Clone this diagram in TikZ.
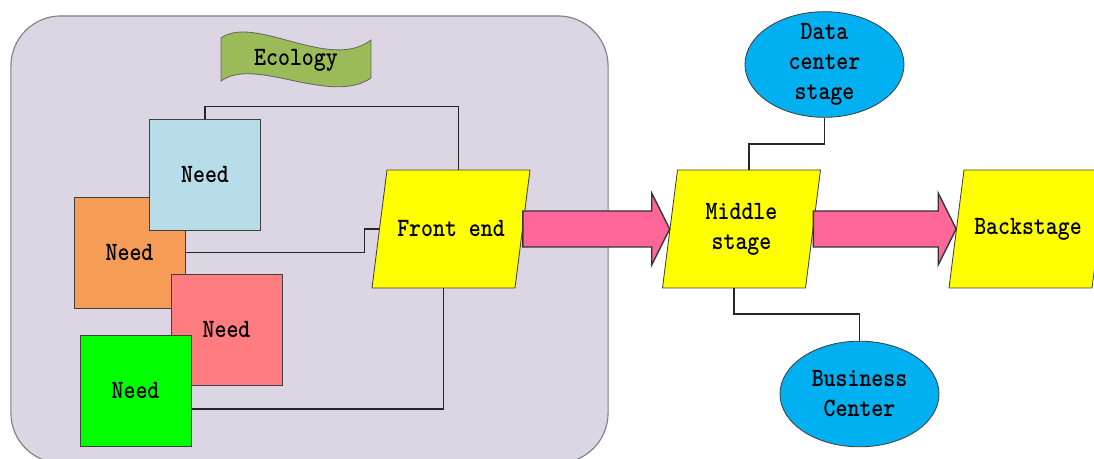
\documentclass[tikz,border=0pt]{standalone}
\usepackage{xcolor}
\usepackage{fontspec}
\usepackage{tikz}
\usetikzlibrary{arrows.meta, positioning, shapes.geometric, calc}

\newfontfamily\labelfont{lmmonolt10-bold.otf}[FakeStretch=0.86]

\definecolor{ecofill}{HTML}{DCD6E4}
\definecolor{bannergreen}{HTML}{9BBB59}
\definecolor{needblue}{HTML}{B7DDE8}
\definecolor{needorange}{HTML}{F59D56}
\definecolor{needred}{HTML}{FF7C80}
\definecolor{needgreen}{HTML}{00FF00}
\definecolor{stageyellow}{HTML}{FFFF00}
\definecolor{arrowpink}{HTML}{FF6699}
\definecolor{centerblue}{HTML}{00B0F0}

% slanted yellow box #1 centred at #2, text #3
\newcommand{\stagebox}[3]{%
  \filldraw[stageshape] ($(#2)+(-64,-59)$) -- ++(143,0) -- ++(-15,118) -- ++(-143,0) -- cycle;
  \node[stagenode] (#1) at (#2) {#3};}

% thick block arrow from the right side of #1 to the left side of #2
\newcommand{\bigarrow}[2]{%
  \draw[fatarrow] ($(#1.east)+(0,-18)$) -- ($(#2.west)+(-18,-18)$) -- ($(#2.west)+(-18,-36)$)
    -- (#2.west) -- ($(#2.west)+(-18,36)$) -- ($(#2.west)+(-18,18)$) -- ($(#1.east)+(0,18)$) -- cycle;}

\begin{document}
\begin{tikzpicture}[
x=0.025cm, y=-0.025cm,
every node/.style={font=\labelfont\fontsize{18.8}{21.3}\selectfont},
ecoframe/.style={rectangle, rounded corners=1.25cm, draw=black!50, line width=0.8pt, fill=ecofill,
minimum width=14.925cm, minimum height=11.175cm},
needbox/.style={rectangle, draw=black!75, line width=0.6pt,
minimum width=2.775cm, minimum height=2.775cm, inner sep=0pt},
stageshape/.style={draw=black!75, line width=0.6pt, fill=stageyellow},
stagenode/.style={rectangle, minimum width=3.575cm, minimum height=2.95cm, inner sep=0pt, align=center},
centernode/.style={ellipse, draw=black!75, line width=0.6pt, fill=centerblue,
minimum width=3.975cm, minimum height=2.64cm, inner sep=0pt},
linknode/.style={line width=1.2pt, black!85},
fatarrow/.style={draw=black!80, line width=1pt, fill=arrowpink, line join=miter}
]
\useasboundingbox (0,0) rectangle (1094,459);

\node[ecoframe] (ecoframe) at (309.5,239.5) {};

% banner
\draw[draw=black!60, line width=0.6pt, fill=bannergreen]
  (221,38) .. controls (255,14) and (330,72) .. (371,40) -- (371,78)
  .. controls (330,106) and (255,56) .. (221,81) -- cycle;
\node (ecology) at (296,60) {Ecology};

\node[needbox, fill=needorange] (needB) at (129.5,252.5) {Need};
\node[needbox, fill=needblue] (needA) at (205,174.5) {Need};
\node[needbox, fill=needred] (needC) at (226.5,329.5) {Need};
\node[needbox, fill=needgreen] (needD) at (135.5,391) {Need};

\stagebox{front}{451,229}{Front end}
\stagebox{middle}{741.5,229}{Middle\\stage}
\stagebox{back}{1028,229}{Backstage}

\node[centernode, label={[align=center]center:Data\\center\\stage}] (datactr) at (824.5,64.5) {};
\node[centernode, label={[align=center]center:Business\\Center}] (bizctr) at (859.5,394) {};

\draw[linknode] (needA.north) -- ++(0,-12) -| ([xshift=0.1875cm]front.north);
\draw[linknode] (needB.east) -- ++(179,0) |- (front.west);
\draw[linknode] ([yshift=-0.45cm]needD.east) -| ([xshift=-0.1875cm]front.south);
\draw[linknode] (datactr.south) -- ++(0,26) -| ([xshift=0.1875cm]middle.north);
\draw[linknode] ([xshift=-0.1875cm]middle.south) -- ++(0,26) -| (bizctr.north);

\bigarrow{front}{middle}
\bigarrow{middle}{back}

\end{tikzpicture}
\end{document}
